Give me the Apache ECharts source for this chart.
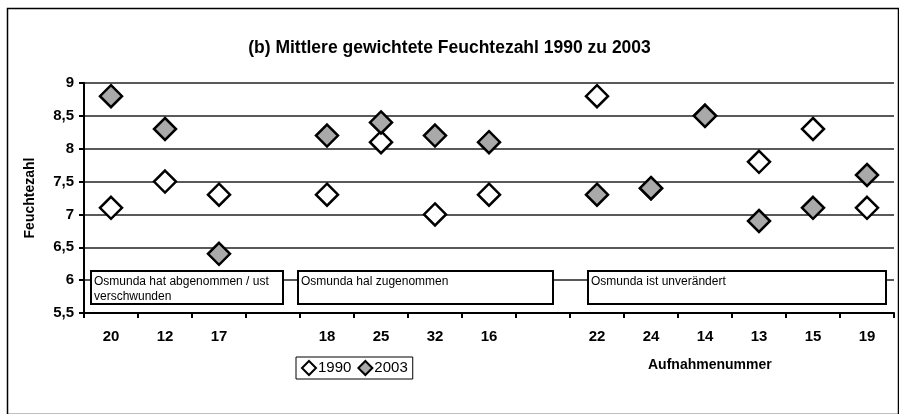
<!DOCTYPE html>
<html>
<head>
<meta charset="utf-8">
<script src="https://cdn.jsdelivr.net/npm/echarts@6/dist/echarts.min.js"></script>
<style>
  html, body { margin: 0; padding: 0; background: #fff; }
  #main { width: 899px; height: 414px; }
</style>
</head>
<body>
<div id="main"></div>
<script>
// Aufnahmenummern, leere Felder = Lücken zwischen den Gruppen
var categories = ['20', '12', '17', ' ', '18', '25', '32', '16', '  ', '22', '24', '14', '13', '15', '19'];
var values1990 = [7.1, 7.5, 7.3, null, 7.3, 8.1, 7.0, 7.3, null, 8.8, 7.4, 8.5, 7.8, 8.3, 7.1];
var values2003 = [8.8, 8.3, 6.4, null, 8.2, 8.4, 8.2, 8.1, null, 7.3, 7.4, 8.5, 6.9, 7.1, 7.6];
var groupLabels = ['Osmunda hat abgenommen / ust\nverschwunden', 'Osmunda hal zugenommen', 'Osmunda ist unverändert'];

var myChart = echarts.init(document.getElementById('main'), null, { renderer: 'canvas' });

var font = 'Arial, "Liberation Sans", sans-serif';

function box(x, w, text) {
  return {
    type: 'group',
    left: x,
    top: 270,
    z: 100,
    children: [{
      type: 'rect',
      z: 100,
      shape: { x: 0, y: 0, width: w, height: 33 },
      style: { fill: '#fff', stroke: '#000', lineWidth: 2 }
    }, {
      type: 'text',
      z: 101,
      x: 3,
      y: 3,
      style: { text: text, font: '12px ' + font, fill: '#000', lineHeight: 15 }
    }]
  };
}

var option = {
  backgroundColor: '#fff',
  animation: false,
  title: {
    text: '(b) Mittlere gewichtete Feuchtezahl 1990 zu 2003',
    left: 'center',
    top: 34,
    textStyle: { fontFamily: font, fontSize: 17.5, fontWeight: 'bold', color: '#000' }
  },
  legend: {
    left: 296,
    top: 357,
    padding: [3, 5],
    itemGap: 6,
    itemWidth: 14,
    itemHeight: 14,
    borderColor: '#000',
    borderWidth: 1,
    textStyle: { fontFamily: font, fontSize: 15, color: '#000', padding: [0, 0, 0, -3] },
    data: [
      { name: '1990', icon: 'diamond' },
      { name: '2003', icon: 'diamond' }
    ]
  },
  grid: { left: 84, right: 5, top: 83, bottom: 101, containLabel: false, outerBoundsMode: 'none' },
  xAxis: {
    type: 'category',
    data: categories,
    boundaryGap: true,
    axisLine: { lineStyle: { color: '#000', width: 2 } },
    axisTick: { show: true, length: 5, lineStyle: { color: '#000', width: 2 } },
    axisLabel: { fontFamily: font, fontSize: 15, fontWeight: 'bold', color: '#000', margin: 16 }
  },
  yAxis: {
    type: 'value',
    min: 5.5,
    max: 9,
    interval: 0.5,
    name: 'Feuchtezahl',
    nameLocation: 'middle',
    nameGap: 47,
    nameTextStyle: { fontFamily: font, fontSize: 14, fontWeight: 'bold', color: '#000' },
    axisLine: { show: true, lineStyle: { color: '#000', width: 2 } },
    axisTick: { show: true, length: 5, lineStyle: { color: '#000', width: 2 } },
    axisLabel: {
      fontFamily: font, fontSize: 15, fontWeight: 'bold', color: '#000', margin: 10,
      formatter: function (v) { return String(v).replace('.', ','); }
    },
    splitLine: { show: true, lineStyle: { color: '#222', width: 1.5 } }
  },
  series: [{
    name: '1990',
    type: 'scatter',
    symbol: 'diamond',
    symbolSize: 22,
    data: values1990,
    itemStyle: { color: '#fff', borderColor: '#000', borderWidth: 2.5, opacity: 1 },
    z: 3
  }, {
    name: '2003',
    type: 'scatter',
    symbol: 'diamond',
    symbolSize: 22,
    data: values2003,
    itemStyle: { color: '#a9a9a9', borderColor: '#000', borderWidth: 2.5, opacity: 1 },
    z: 4
  }],
  graphic: [
    {
      type: 'rect',
      left: 5, top: 6, z: -10,
      shape: { width: 891, height: 406 },
      style: { fill: 'none', stroke: '#000', lineWidth: 1.5 }
    },
    {
      type: 'text',
      left: 648, top: 358,
      style: { text: 'Aufnahmenummer', font: 'bold 14px ' + font, fill: '#000' }
    },
    box(90, 192, groupLabels[0]),
    box(297, 255, groupLabels[1]),
    box(587, 298, groupLabels[2])
  ]
};

myChart.setOption(option);
</script>
</body>
</html>
